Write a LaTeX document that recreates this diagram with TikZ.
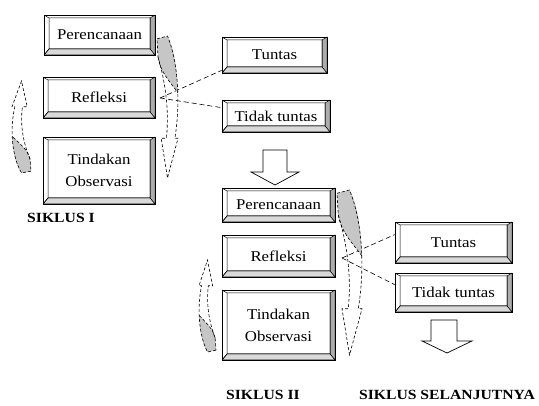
\documentclass[tikz,border=0pt]{standalone}
\usepackage{fontspec}
\setmainfont{Liberation Serif}
\usetikzlibrary{calc}
\newcommand\sx[1]{\scalebox{1.12}[1]{#1}}
\newcommand\mycurvedarrow{%
  \fill[gray!45] (0.0,0.02) -- (0.5,0) .. controls (0.8,0.08) and (0.95,0.22) .. (1.0,0.4) .. controls (0.6,0.32) and (0.15,0.25) .. (0.05,0.15) -- cycle;
  \draw[cdash] (0.0,0.02) -- (0.5,0) .. controls (1.05,0.2) and (1.1,0.5) .. (0.85,0.72) -- (1.0,0.72) -- (0.5,1.0) -- (0.2,0.72) -- (0.45,0.72) .. controls (0.6,0.5) and (0.35,0.3) .. (0.05,0.15) -- cycle;
  \draw[cdash] (0.05,0.15) .. controls (0.15,0.25) and (0.6,0.32) .. (1.0,0.4);
}
\tikzset{
  bevelbox/.style={draw, line width=0.7pt, fill=white, inner sep=0pt, align=center,
    font=\fontsize{15}{22}\selectfont, text=black,
    path picture={
      \coordinate (pA) at (path picture bounding box.south west);
      \coordinate (pB) at (path picture bounding box.north east);
      \coordinate (qA) at ($(pA)+(5pt,6pt)$);
      \coordinate (qB) at ($(pB)+(-5pt,-3pt)$);
      \filldraw[fill=gray!65, line width=0.5pt] (pB) -- (pB |- pA) -- (qB |- qA) -- (qB) -- cycle;
      \filldraw[fill=gray!30, line width=0.5pt] (pA) -- (pB |- pA) -- (qB |- qA) -- (qA) -- cycle;
      \draw[line width=0.5pt] (pA |- pB) -- (qA |- qB) (pA) -- (qA) (qA) rectangle (qB);
    }},
  dashline/.style={draw, line width=0.6pt, dash pattern=on 5pt off 3pt},
  cdash/.style={line width=0.6pt, dash pattern=on 3pt off 2pt},
  hollowarrow/.style={draw, line width=0.7pt, fill=white},
  title/.style={font=\fontsize{14}{16}\selectfont\bfseries, inner sep=0pt},
}
\begin{document}
\begin{tikzpicture}[x=1pt, y=-1pt]
\useasboundingbox[fill=white] (0,0) rectangle (539,406);

% cycle I boxes
\node[bevelbox, minimum width=111pt, minimum height=40pt] (p1) at (99.5,35) {\sx{Perencanaan}};
\node[bevelbox, minimum width=112pt, minimum height=41pt] (r1) at (99,97.5) {\sx{Refleksi}};
\node[bevelbox, minimum width=112pt, minimum height=67pt] (t1) at (99,170.5) {\sx{Tindakan}\\\sx{Observasi}};
\node[bevelbox, minimum width=105pt, minimum height=36pt] (tu1) at (274.5,55) {\sx{Tuntas}};
\node[bevelbox, minimum width=108pt, minimum height=32pt] (td1) at (276,116) {\sx{Tidak tuntas}};

% cycle II boxes
\node[bevelbox, minimum width=113pt, minimum height=34pt] (p2) at (278.5,205) {\sx{Perencanaan}};
\node[bevelbox, minimum width=113pt, minimum height=42pt] (r2) at (278.5,256) {\sx{Refleksi}};
\node[bevelbox, minimum width=113pt, minimum height=70pt] (t2) at (278.5,325) {\sx{Tindakan}\\\sx{Observasi}};
\node[bevelbox, minimum width=117pt, minimum height=41pt] (tu2) at (453.5,242.5) {\sx{Tuntas}};
\node[bevelbox, minimum width=117pt, minimum height=39pt] (td2) at (453.5,292.5) {\sx{Tidak tuntas}};

% dashed connectors
\coordinate (m1) at (160,98);
\draw[dashline] (m1) -- ([yshift=3pt]tu1.south west);
\draw[dashline] (m1) -- ([yshift=-8pt]td1.north west);
\coordinate (m2) at (342,258);
\draw[dashline] (m2) -- ([yshift=-13pt]tu2.north west);
\draw[dashline] (m2) -- ([yshift=-12pt]td2.north west);

% curved arrows
\begin{scope}[shift={(157,36)}, xscale=21, yscale=142]\mycurvedarrow\end{scope}
\begin{scope}[shift={(31,173)}, xscale=-19, yscale=-92]\mycurvedarrow\end{scope}
\begin{scope}[shift={(337,190)}, xscale=25, yscale=165]\mycurvedarrow\end{scope}
\begin{scope}[shift={(216,352)}, xscale=-17, yscale=-92]\mycurvedarrow\end{scope}

% hollow down arrows
\draw[hollowarrow] (263,150) -- (287,150) -- (287,172) -- (299,172) -- (275,185) -- (251,172) -- (263,172) -- cycle;
\draw[hollowarrow] (431,320) -- (457,320) -- (457,341) -- (472,341) -- (447,353) -- (422,341) -- (431,341) -- cycle;

% titles
\node[title] (s1) at (61,218) {\sx{SIKLUS I}};
\node[title] (s2) at (263,395) {\sx{SIKLUS II}};
\node[title] (s3) at (447,395) {\sx{SIKLUS SELANJUTNYA}};
\end{tikzpicture}
\end{document}
